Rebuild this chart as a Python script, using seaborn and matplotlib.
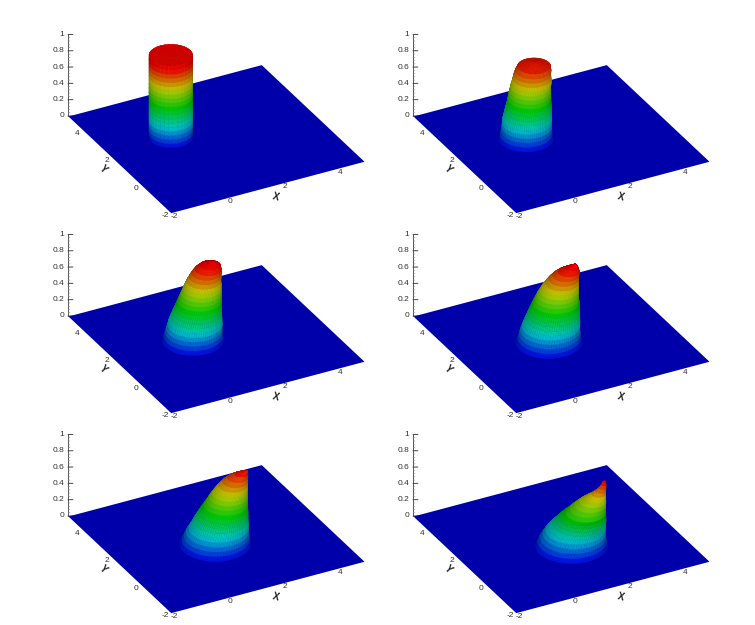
#!/usr/bin/env python3
"""Six frames of a moving front, drawn as 3D surfaces over a flat plate."""
import numpy as np
import matplotlib
matplotlib.use("Agg")
import matplotlib.pyplot as plt
import seaborn as sns
from mpl_toolkits.mplot3d import proj3d

# heights of the contour bands
levels = [0.0, 0.05, 0.1, 0.15, 0.2, 0.25, 0.3, 0.35, 0.4, 0.45, 0.5,
          0.55, 0.6, 0.65, 0.7, 0.75, 0.8, 0.85, 0.9, 0.95, 1.0]

# each frame: shift of the section along (1, -1), its radius and how far
# it sits towards the viewer, per level
shift_1 = [0.0] * 21
radius_1 = [0.70] * 21
drop_1 = [0.0] * 21
shift_2 = [0.24, 0.24, 0.25, 0.26, 0.26, 0.27, 0.28, 0.29, 0.30, 0.31,
           0.32, 0.33, 0.34, 0.35, 0.37, 0.38, 0.39, 0.41, 0.43, 0.44]
radius_2 = [0.87, 0.83, 0.81, 0.80, 0.79, 0.785, 0.765, 0.745, 0.725, 0.705,
            0.69, 0.675, 0.66, 0.645, 0.63, 0.61, 0.59, 0.57, 0.53, 0.05]
drop_2 = [0.0] * 20
shift_3 = [0.52, 0.53, 0.54, 0.55, 0.57, 0.58, 0.60, 0.62, 0.64, 0.66, 0.68,
           0.70, 0.72, 0.74, 0.76, 0.78, 0.81, 0.84, 0.88, 0.93, 0.99]
radius_3 = [0.98, 0.94, 0.91, 0.89, 0.87, 0.85, 0.82, 0.79, 0.76, 0.73, 0.70,
            0.67, 0.64, 0.61, 0.58, 0.545, 0.51, 0.47, 0.42, 0.33, 0.05]
drop_3 = [0.0] * 21
shift_4 = [0.78, 0.79, 0.80, 0.81, 0.83, 0.85, 0.87, 0.89, 0.91, 0.93, 0.95,
           0.97, 0.99, 1.02, 1.05, 1.09, 1.13, 1.18, 1.25, 1.33, 1.40]
radius_4 = [1.06, 1.01, 0.98, 0.95, 0.925, 0.90, 0.87, 0.84, 0.81, 0.775, 0.74,
            0.70, 0.66, 0.62, 0.58, 0.535, 0.48, 0.42, 0.34, 0.20, 0.03]
drop_4 = [0.0] * 21
shift_5 = [1.05, 1.06, 1.08, 1.10, 1.13, 1.16, 1.18, 1.21, 1.24, 1.27,
           1.30, 1.33, 1.36, 1.39, 1.43, 1.47, 1.52, 1.58, 1.66, 1.80]
radius_5 = [1.14, 1.08, 1.04, 1.00, 0.95, 0.91, 0.87, 0.83, 0.79, 0.745,
            0.70, 0.65, 0.61, 0.56, 0.51, 0.46, 0.40, 0.32, 0.20, 0.03]
drop_5 = [0.0] * 20
shift_6 = [1.32, 1.33, 1.35, 1.38, 1.41, 1.45, 1.50, 1.54, 1.575, 1.61,
           1.655, 1.70, 1.76, 1.82, 1.89, 1.96, 2.01, 2.05, 2.08, 2.09]
radius_6 = [1.16, 1.10, 1.05, 1.00, 0.95, 0.90, 0.85, 0.80, 0.75, 0.70,
            0.64, 0.57, 0.50, 0.42, 0.32, 0.22, 0.16, 0.11, 0.07, 0.03]
drop_6 = [0.0, 0.0, 0.0, 0.0, 0.0, 0.02, 0.05, 0.09, 0.13, 0.18,
          0.24, 0.24, 0.24, 0.24, 0.24, 0.24, 0.27, 0.30, 0.33, 0.37]

start_x = 0.28
start_y = 2.28
domain = [-2, 5]
xy_ticks = [-2, 0, 2, 4]
z_ticks = [0, 0.2, 0.4, 0.6, 0.8, 1]
z_labels = ["0", "0.2", "0.4", "0.6", "0.8", "1"]
z_minor = [0.04, 0.08, 0.12, 0.16, 0.24, 0.28, 0.32, 0.36, 0.44, 0.48, 0.52, 0.56,
           0.64, 0.68, 0.72, 0.76, 0.84, 0.88, 0.92, 0.96]

frames = [(shift_1, radius_1, drop_1), (shift_2, radius_2, drop_2),
          (shift_3, radius_3, drop_3), (shift_4, radius_4, drop_4),
          (shift_5, radius_5, drop_5), (shift_6, radius_6, drop_6)]
# pixel position of the plate's left corner for each frame
anchors = [(68, 116), (413, 116), (68, 316), (413, 316), (68, 516), (413, 516)]
# the first frame keeps its visible vertical facets
facets = [33, 73, 73, 73, 73, 73]

W, H = 755, 625
PLATE = "#0000AA"
TEXT = "#333333"
RED_AT = 0.95

sns.set_theme(style="white")
plt.rcParams["font.family"] = ["Liberation Sans", "DejaVu Sans"]
cmap = sns.blend_palette(["#0000E0", "#00CCCC", "#00CC00", "#CCCC00", "#F00000"],
                         n_colors=256, as_cmap=True)
# unit vector towards the viewer
view_dir = np.array([np.cos(np.radians(-118)) * np.cos(np.radians(30)),
                     np.sin(np.radians(-118)) * np.cos(np.radians(30)),
                     np.sin(np.radians(30))])


def place(ax, anchor):
    # scale and move the square axes so the plate lands on its pixels
    ax.set_position([0, 0, 600 / W, 600 / H])
    ax.apply_aspect()
    xs = [domain[0], domain[1]]
    ys = [domain[1], domain[0]]
    px, py, _ = proj3d.proj_transform(xs, ys, [0, 0], ax.get_proj())
    disp = ax.transData.transform(np.column_stack([px, py]))
    k = 296 / (disp[1, 0] - disp[0, 0])
    left = anchor[0] - disp[0, 0] * k
    bottom = (H - anchor[1]) - disp[0, 1] * k
    ax.set_position([left / W, bottom / H, 600 * k / W, 600 * k / H])


def label(ax, x, y, z, text, **kw):
    # plain 2D text at the projected spot of a 3D point
    px, py, _ = proj3d.proj_transform([x], [y], [z], ax.get_proj())
    ax.text2D(px[0], py[0], text, transform=ax.transData, ha=kw.pop("ha", "center"),
              va="center", clip_on=False, **kw)


def face_colors(X, Y, Z):
    # band colour by height, dimmed where the facet turns away from the viewer
    box = np.array([1.0, 1.0, 7.0 * 0.43])
    P = np.stack([X, Y, Z], axis=-1) * box
    along = np.diff(P, axis=0)
    along = (along[:, :-1] + along[:, 1:]) / 2
    across = np.diff(P, axis=1)
    across = (across[:-1] + across[1:]) / 2
    normal = np.cross(along, across)
    norm = np.linalg.norm(normal, axis=-1, keepdims=True)
    normal = normal / np.where(norm == 0, 1, norm)
    light = np.abs(normal @ view_dir) ** 0.7
    colors = cmap(np.clip((Z[:-1, :-1] + 0.025) / RED_AT, 0, 1))
    colors[..., :3] *= (0.6 + 0.4 * light)[..., None]
    return colors


def draw_frame(ax, shift, radius, drop, anchor, n_theta):
    ax.set_proj_type("ortho")
    ax.view_init(elev=30, azim=-118)
    ax.set_xlim(*domain)
    ax.set_ylim(*domain)
    ax.set_zlim(0, 1)
    ax.set_box_aspect((1, 1, 0.43))
    ax.set_axis_off()
    place(ax, anchor)

    gx, gy = np.meshgrid(domain, domain)
    ax.plot_surface(gx, gy, np.zeros_like(gx), color=PLATE, shade=False,
                    linewidth=0, antialiased=True, zorder=1)

    z = np.array(levels[:len(shift)] + [levels[len(shift) - 1]])
    s = np.array(shift + [shift[-1]])
    r = np.array(radius + [0.01])
    d = np.array(drop + [drop[-1]])
    theta = np.linspace(0, 2 * np.pi, n_theta)
    X = (start_x + s - 0.7 * d)[:, None] + r[:, None] * np.cos(theta)
    Y = (start_y - s - 1.3 * d)[:, None] + r[:, None] * np.sin(theta)
    Z = np.repeat(z[:, None], theta.size, axis=1)
    ax.plot_surface(X, Y, Z, facecolors=face_colors(X, Y, Z), shade=False,
                    rstride=1, cstride=1,
                    linewidth=0.25, antialiased=True, zorder=2)

    # z axis at the far left corner of the plate
    ax.plot([domain[0]] * 2, [domain[1]] * 2, [0, 1], color="#555555", lw=0.7, zorder=0)
    for t in z_minor:
        ax.plot([-2, -1.94], [5, 4.97], [t, t], color="#888888", lw=0.4, zorder=0)
    for t, lab in zip(z_ticks, z_labels):
        ax.plot([-2, -1.86], [5, 4.93], [t, t], color="#444444", lw=0.7, zorder=0)
        label(ax, -2.1, 5.055, t, lab, ha="right", fontsize=6, color=TEXT)

    for t in xy_ticks:
        label(ax, t, -2.26, 0, str(t), fontsize=6, color=TEXT)
        label(ax, -2.25, t - 0.1, 0, str(t), fontsize=6, color=TEXT)
    label(ax, 1.45, -2.7, 0, "X", rotation=-15, fontsize=7, fontweight="bold", color="#222222")
    label(ax, -2.6, 1.5, 0, "Y", rotation=-45, fontsize=7, fontweight="bold", color="#222222")


fig = plt.figure(figsize=(W / 100, H / 100), dpi=100, facecolor="white")
for (shift, radius, drop), anchor, n_theta in zip(frames, anchors, facets):
    ax = fig.add_subplot(projection="3d", computed_zorder=False)
    ax.patch.set_alpha(0)
    draw_frame(ax, shift, radius, drop, anchor, n_theta)

fig.savefig("out.png", dpi=100)
